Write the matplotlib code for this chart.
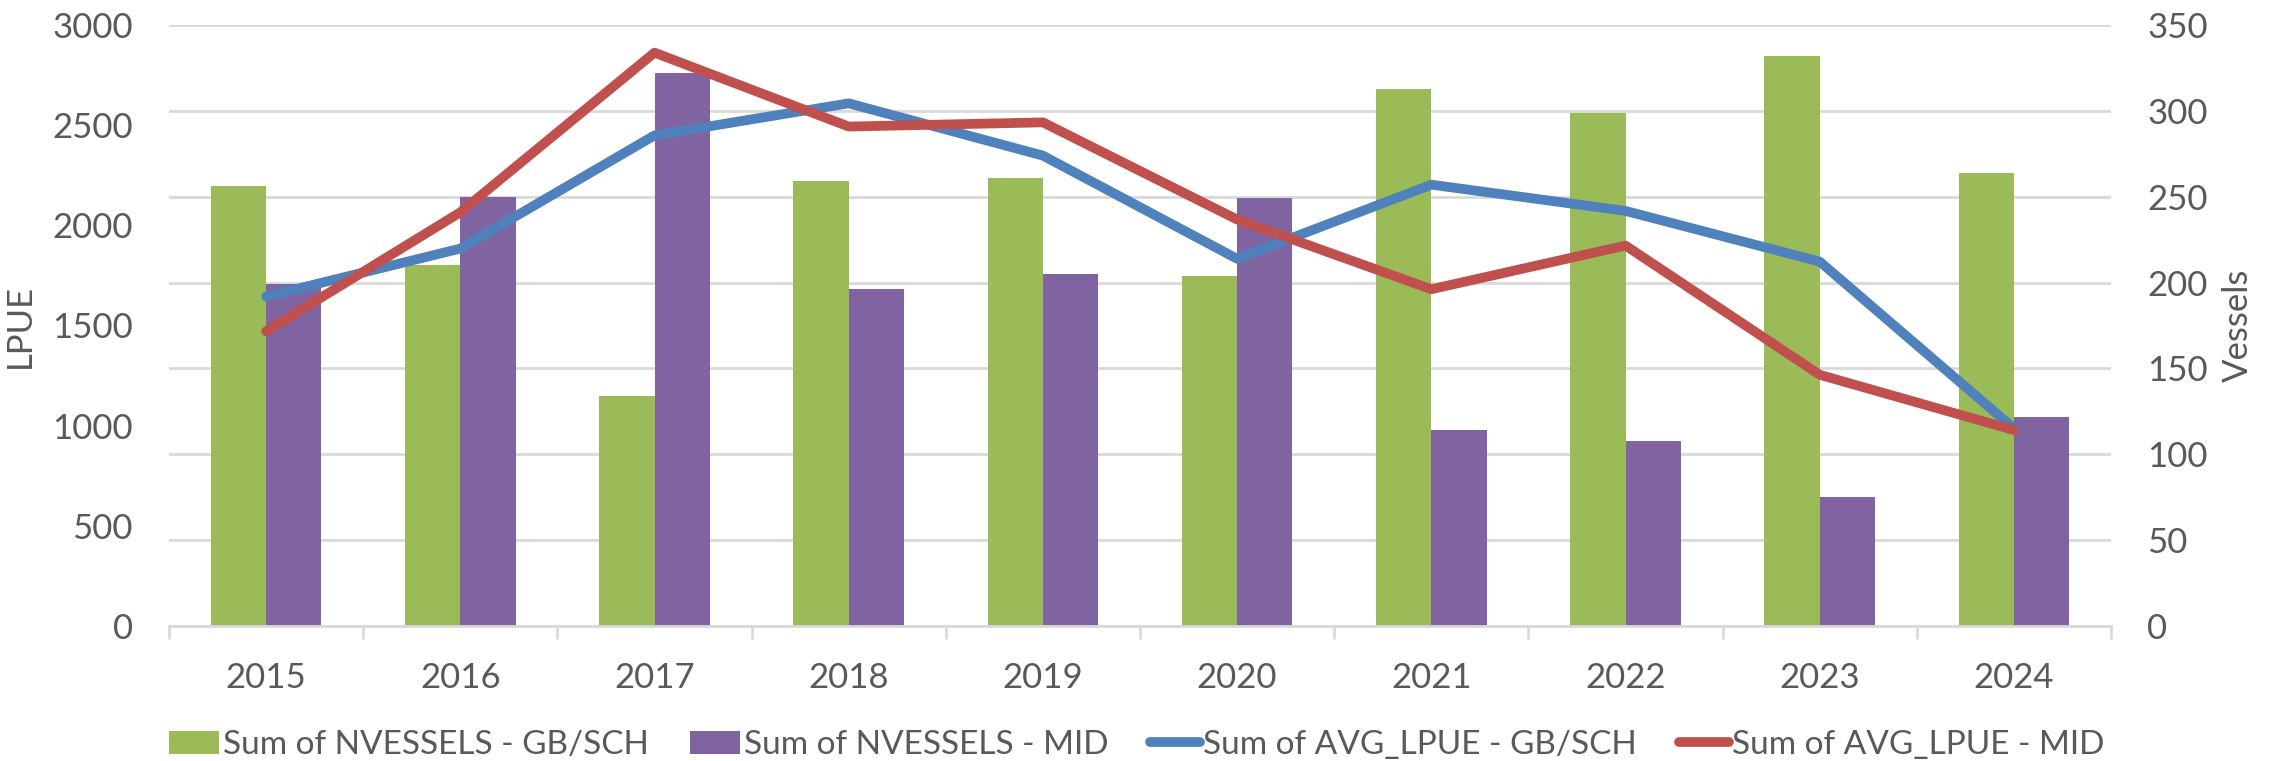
import matplotlib.pyplot as plt
import numpy as np

# data
years = ['2015', '2016', '2017', '2018', '2019', '2020', '2021', '2022', '2023', '2024']
vessels_gb = [256, 210, 134, 259, 261, 204, 313, 299, 332, 264]
vessels_mid = [199, 250, 322, 196, 205, 249, 114, 108, 75, 122]
lpue_gb = [1645, 1884, 2449, 2609, 2348, 1833, 2203, 2072, 1819, 986]
lpue_mid = [1471, 2065, 2862, 2493, 2514, 2029, 1681, 1899, 1254, 978]

plt.rcParams['font.family'] = ['Lato', 'DejaVu Sans']
txt = '#595959'
fs = 25

fig = plt.figure(figsize=(22.74, 7.61), dpi=100)
L, R, T, B = 169, 2111, 25, 626
ax = fig.add_axes([L/2274, 1-B/761, (R-L)/2274, (B-T)/761])
ax2 = ax.twinx()

x = np.arange(len(years))
w = 0.285

# bars on the right (Vessels) axis, lines on the left (LPUE) axis
ax2.bar(x - w/2, vessels_gb, w, color='#9BBB59', label='Sum of NVESSELS - GB/SCH', zorder=2)
ax2.bar(x + w/2, vessels_mid, w, color='#8064A2', label='Sum of NVESSELS - MID', zorder=2)
ax2.set_ylim(0, 350)
ax2.set_yticks(range(0, 351, 50))
ax2.grid(axis='y', color='#D9D9D9', lw=2, zorder=0)
ax2.set_axisbelow(True)

ax.set_zorder(ax2.get_zorder() + 1)
ax.patch.set_visible(False)
ax.plot(x, lpue_gb, color='#4F81BD', lw=7, solid_capstyle='round', solid_joinstyle='round',
        label='Sum of AVG_LPUE - GB/SCH')
ax.plot(x, lpue_mid, color='#C0504D', lw=7, solid_capstyle='round', solid_joinstyle='round',
        label='Sum of AVG_LPUE - MID')
ax.set_ylim(0, 3000)
ax.set_yticks(range(0, 3001, 500))
ax.set_xlim(-0.5, len(years) - 0.5)

for a in (ax, ax2):
    for s in a.spines.values():
        s.set_visible(False)
ax.spines['bottom'].set_visible(True)
ax.spines['bottom'].set_color('#D9D9D9')
ax.spines['bottom'].set_linewidth(2)

ax.set_xticks(x)
ax.set_xticklabels(years)
ax.set_xticks(np.arange(-0.5, len(years)), minor=True)
ax.tick_params(axis='x', which='major', length=0, pad=26, labelsize=fs, labelcolor=txt)
ax.tick_params(axis='x', which='minor', length=9, width=2, color='#D9D9D9')
ax.tick_params(axis='y', length=0, pad=26, labelsize=fs, labelcolor=txt)
ax2.tick_params(axis='y', length=0, pad=26, labelsize=fs, labelcolor=txt)

ax.set_ylabel('LPUE', fontsize=fs, color=txt, labelpad=12)
ax2.set_ylabel('Vessels', fontsize=fs, color=txt, labelpad=10)

h1, l1 = ax2.get_legend_handles_labels()
h2, l2 = ax.get_legend_handles_labels()
fig.legend(h1 + h2, l1 + l2, loc='center', bbox_to_anchor=(0.5, 1-745/761), ncol=4,
           frameon=False, fontsize=24, labelcolor=txt, handlelength=1.5,
           handletextpad=0.1, columnspacing=1.25)

fig.savefig('out.png', dpi=100)
